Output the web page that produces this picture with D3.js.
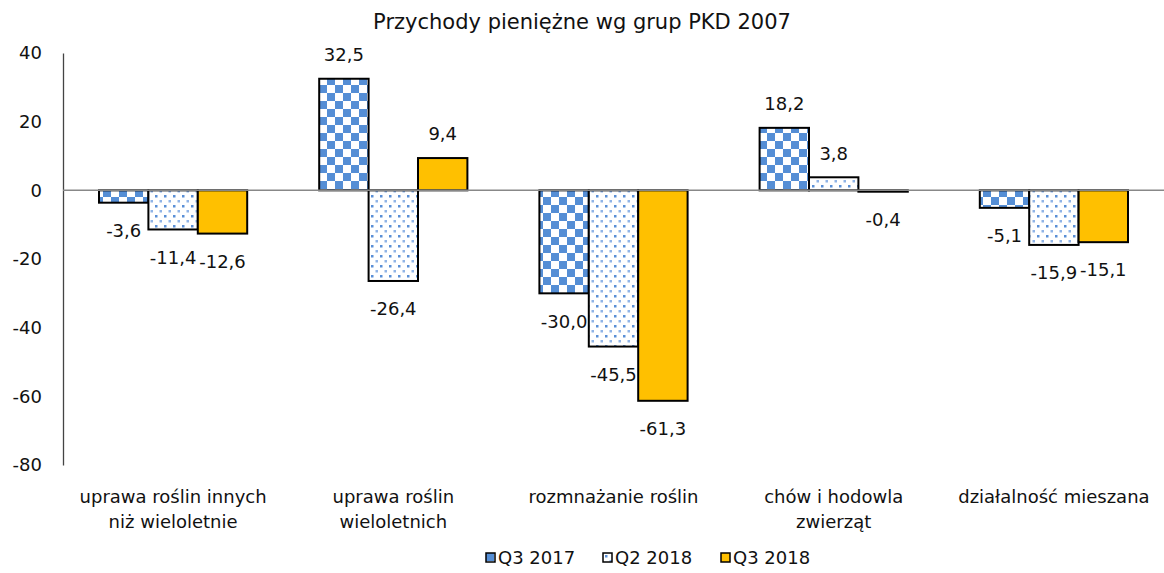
<!DOCTYPE html>
<html>
<head>
<meta charset="utf-8">
<script src="https://cdn.jsdelivr.net/npm/d3@7"></script>
<style>
  body { margin: 0; background: #fff; }
  svg text { font-family: "DejaVu Sans", Verdana, sans-serif; fill: #111; }
</style>
</head>
<body>
<div id="chart"></div>
<script>
// Data
const categories = [
  ["uprawa roślin innych", "niż wieloletnie"],
  ["uprawa roślin", "wieloletnich"],
  ["rozmnażanie roślin"],
  ["chów i hodowla", "zwierząt"],
  ["działalność mieszana"]
];
const seriesNames = ["Q3 2017", "Q2 2018", "Q3 2018"];
const q3_2017 = [-3.6, 32.5, -30.0, 18.2, -5.1];
const q2_2018 = [-11.4, -26.4, -45.5, 3.8, -15.9];
const q3_2018 = [-12.6, 9.4, -61.3, -0.4, -15.1];
const yTicks = [40, 20, 0, -20, -40, -60, -80];

const seriesValues = [q3_2017, q2_2018, q3_2018];
const W = 1164, H = 573;
const margin = { top: 53, right: 0, bottom: 108, left: 63 };
const width = W - margin.left - margin.right;
const height = H - margin.top - margin.bottom;
const fs = "18px";

const svg = d3.select("#chart").append("svg")
  .attr("width", W).attr("height", H);

// Patterns
const defs = svg.append("defs");
const checker = defs.append("pattern")
  .attr("id", "pat-checker")
  .attr("patternUnits", "userSpaceOnUse")
  .attr("width", 16).attr("height", 16);
checker.append("rect").attr("width", 16).attr("height", 16).attr("fill", "#fff");
checker.append("rect").attr("width", 8).attr("height", 8).attr("fill", "#558ed5");
checker.append("rect").attr("x", 8).attr("y", 8).attr("width", 8).attr("height", 8).attr("fill", "#558ed5");

const dots = defs.append("pattern")
  .attr("id", "pat-dots")
  .attr("patternUnits", "userSpaceOnUse")
  .attr("width", 9).attr("height", 10);
dots.append("rect").attr("width", 9).attr("height", 10).attr("fill", "#fff");
dots.append("rect").attr("x", 2).attr("y", 2).attr("width", 2.5).attr("height", 2.5).attr("fill", "#5a8fd6");
dots.append("rect").attr("x", 6.5).attr("y", 7).attr("width", 2.5).attr("height", 2.5).attr("fill", "#8fb3e6");

const fills = ["url(#pat-checker)", "url(#pat-dots)", "#ffc000"];

const g = svg.append("g").attr("transform", `translate(${margin.left},${margin.top})`);

const x0 = d3.scaleBand()
  .domain(d3.range(categories.length))
  .range([0, width])
  .paddingInner(0.327)
  .paddingOuter(0.1635);
const x1 = d3.scaleBand()
  .domain(d3.range(seriesNames.length))
  .range([0, x0.bandwidth()]);
const y = d3.scaleLinear().domain([-80, 40]).range([height, 0]);

// Title
svg.append("text")
  .attr("x", 582).attr("y", 29)
  .attr("text-anchor", "middle")
  .style("font-size", "21px")
  .text("Przychody pieniężne wg grup PKD 2007");

// Y axis
const yAxis = g.append("g")
  .call(d3.axisLeft(y).tickValues(yTicks).tickSize(0).tickPadding(21).tickFormat(d => String(d)));
yAxis.select(".domain").attr("stroke", "#444").attr("stroke-width", 1.3);
yAxis.selectAll(".tick text").style("font-size", fs).attr("fill", "#111");

// Bars
seriesValues.forEach((vals, si) => {
  g.selectAll(null)
    .data(vals)
    .enter().append("rect")
    .attr("x", (d, i) => x0(i) + x1(si))
    .attr("y", d => y(Math.max(0, d)))
    .attr("width", x1.bandwidth())
    .attr("height", d => Math.abs(y(d) - y(0)))
    .attr("fill", fills[si])
    .attr("stroke", "#000")
    .attr("stroke-width", 2);
});

// Zero line
g.append("line")
  .attr("x1", 0).attr("x2", width)
  .attr("y1", y(0)).attr("y2", y(0))
  .attr("stroke", "#888").attr("stroke-width", 1.5);

// Data labels
const fmt = v => v.toFixed(1).replace(".", ",");
seriesValues.forEach((vals, si) => {
  vals.forEach((v, i) => {
    g.append("text")
      .attr("x", x0(i) + x1(si) + x1.bandwidth() / 2)
      .attr("y", v >= 0 ? y(v) - 24 : y(v) + 28)
      .attr("dy", "0.35em")
      .attr("text-anchor", "middle")
      .style("font-size", fs)
      .text(fmt(v));
  });
});

// Category labels
categories.forEach((lines, i) => {
  const t = g.append("text")
    .attr("text-anchor", "middle")
    .style("font-size", fs);
  lines.forEach((ln, j) => {
    t.append("tspan")
      .attr("x", x0(i) + x0.bandwidth() / 2)
      .attr("y", height + 38 + j * 25)
      .text(ln);
  });
});

// Legend
const legendX = [486, 603, 721];
const legend = svg.append("g");
seriesNames.forEach((s, i) => {
  const it = legend.append("g").attr("transform", `translate(${legendX[i]},553)`);
  it.append("rect")
    .attr("width", 9).attr("height", 9)
    .attr("fill", fills[i]).attr("stroke", "#000").attr("stroke-width", 1.5);
  it.append("text")
    .attr("x", 12).attr("y", 5).attr("dy", "0.35em")
    .style("font-size", fs)
    .text(s);
});
</script>
</body>
</html>
